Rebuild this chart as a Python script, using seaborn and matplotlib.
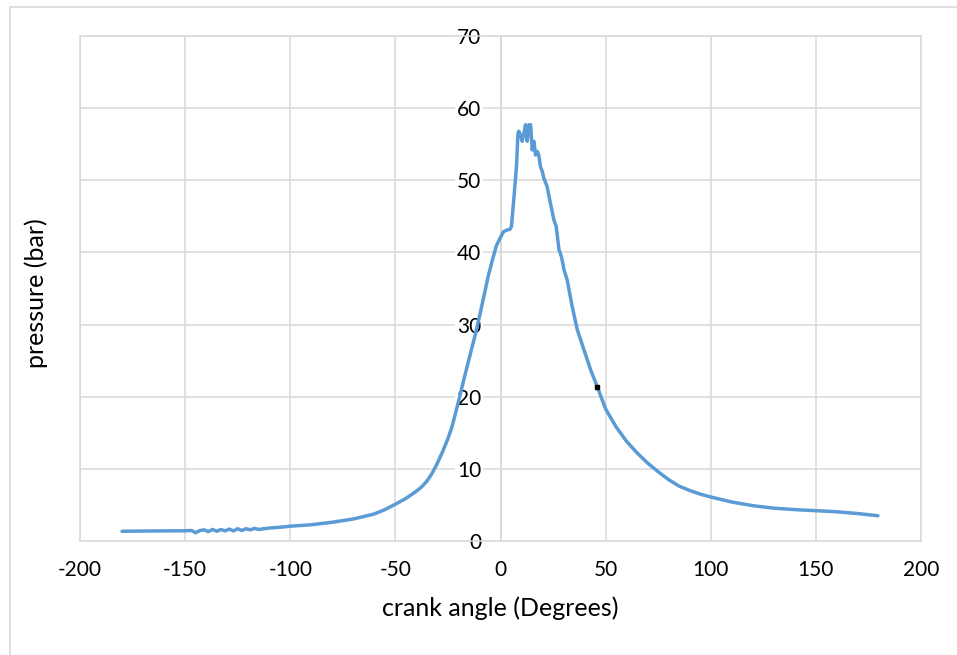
import matplotlib
matplotlib.use("Agg")
import matplotlib.pyplot as plt
import seaborn as sns
import pandas as pd
from matplotlib.patches import Rectangle

# ---- data ----
crank_angle = [
    -180, -170, -160, -150, -147, -145, -143, -141, -139, -137, -135, -133,
    -131, -129, -127, -125, -123, -121, -119, -117, -115, -110, -105, -100,
    -90, -80, -70, -60, -55, -50, -45, -40, -37.5, -35, -32.5, -30, -27.5,
    -25, -23, -21.4, -19.5, -17.5, -15, -12, -10, -8, -6, -4, -2, 0, 1.5, 3,
    4.5, 5.2, 6.3, 7.6, 8.3, 8.7, 9.5, 10.3, 11.1, 11.9, 12.7, 13.5, 14.3,
    15.1, 15.9, 16.7, 17.5, 18.2, 19.0, 19.9, 20.6, 22.2, 23.2, 25.4, 26.5,
    27.8, 29.0, 30.2, 31.7, 34.1, 36.5, 39.7, 42.9, 46.0, 50, 55, 60, 65, 70,
    75, 80, 85, 90, 95, 100, 110, 120, 130, 140, 150, 160, 170, 179.5,
]
pressure = [
    1.35, 1.38, 1.40, 1.42, 1.45, 1.15, 1.45, 1.55, 1.30, 1.60, 1.35, 1.60,
    1.40, 1.65, 1.40, 1.70, 1.45, 1.70, 1.55, 1.75, 1.60, 1.80, 1.90, 2.05,
    2.25, 2.60, 3.05, 3.75, 4.35, 5.10, 5.90, 6.90, 7.50, 8.30, 9.40, 10.8,
    12.4, 14.2, 15.9, 17.7, 19.9, 22.3, 25.2, 28.6, 31.1, 33.8, 36.5, 38.8,
    40.9, 42.1, 42.9, 43.1, 43.2, 43.6, 47.3, 51.9, 56.5, 56.8, 56.3, 55.4,
    56.5, 57.7, 55.4, 57.7, 57.7, 54.2, 55.4, 53.5, 54.0, 53.5, 51.9, 51.2,
    50.3, 49.1, 47.6, 44.5, 43.6, 40.4, 39.4, 37.6, 36.2, 32.5, 29.3, 26.5,
    23.7, 21.4, 18.3, 15.8, 13.8, 12.2, 10.8, 9.6, 8.5, 7.6, 7.0, 6.5, 6.1,
    5.4, 4.9, 4.55, 4.35, 4.2, 4.05, 3.8, 3.5,
]
mark_angle = [46.0]
mark_pressure = [21.4]

x_ticks = [-200, -150, -100, -50, 0, 50, 100, 150, 200]
y_ticks = [0, 10, 20, 30, 40, 50, 60, 70]
x_label = "crank angle (Degrees)"
y_label = "pressure (bar)"

df = pd.DataFrame({"angle": crank_angle, "pressure": pressure})

sns.set_theme(style="white")
plt.rcParams["font.family"] = ["Lato", "DejaVu Sans"]
plt.rcParams["axes.unicode_minus"] = False

grid_c = "#d9d9d9"
line_c = "#5b9bd5"
text_c = "#000000"

fig = plt.figure(figsize=(9.57, 6.55), dpi=100)
ax = fig.add_axes([80 / 957, (655 - 541) / 655, 841 / 957, 505 / 655])

ax.set_xlim(-200, 200)
ax.set_ylim(0, 70)
ax.set_xticks(x_ticks)
ax.set_yticks(y_ticks)
ax.grid(True, color=grid_c, linewidth=1.1, zorder=0)
ax.set_axisbelow(True)

sns.lineplot(data=df, x="angle", y="pressure", ax=ax, color=line_c,
             linewidth=2.5, estimator=None, sort=False, zorder=3)
ax.plot(mark_angle, mark_pressure, marker="s", markersize=2.2,
        color="black", linestyle="none", zorder=4)

# spines
ax.spines["left"].set_position(("data", 0))
for s in ["left", "right", "top", "bottom"]:
    ax.spines[s].set_color(grid_c)
    ax.spines[s].set_linewidth(1.1)
ax.axvline(-200, color=grid_c, linewidth=1.1, clip_on=False, zorder=1)

ax.tick_params(axis="both", length=0, labelsize=15, labelcolor=text_c)
ax.tick_params(axis="x", pad=14)
ax.tick_params(axis="y", pad=14)

ax.set_xlabel(x_label, fontsize=18, color=text_c)
ax.set_ylabel(y_label, fontsize=18, color=text_c)
ax.xaxis.set_label_coords(0.5, -0.110)
ax.yaxis.set_label_coords(-0.038, 0.491)

# outer chart border
fig.patches.append(Rectangle((10 / 957, -0.2), 1.5, 0.2 + 1 - 7 / 655,
                             transform=fig.transFigure, fill=False,
                             edgecolor=grid_c, linewidth=1.2))

fig.canvas.draw()
for tick in ax.yaxis.get_major_ticks():
    tick.label1.set_bbox(dict(facecolor="white", edgecolor="none", pad=1))

fig.savefig("out.png", dpi=100, facecolor="white")
